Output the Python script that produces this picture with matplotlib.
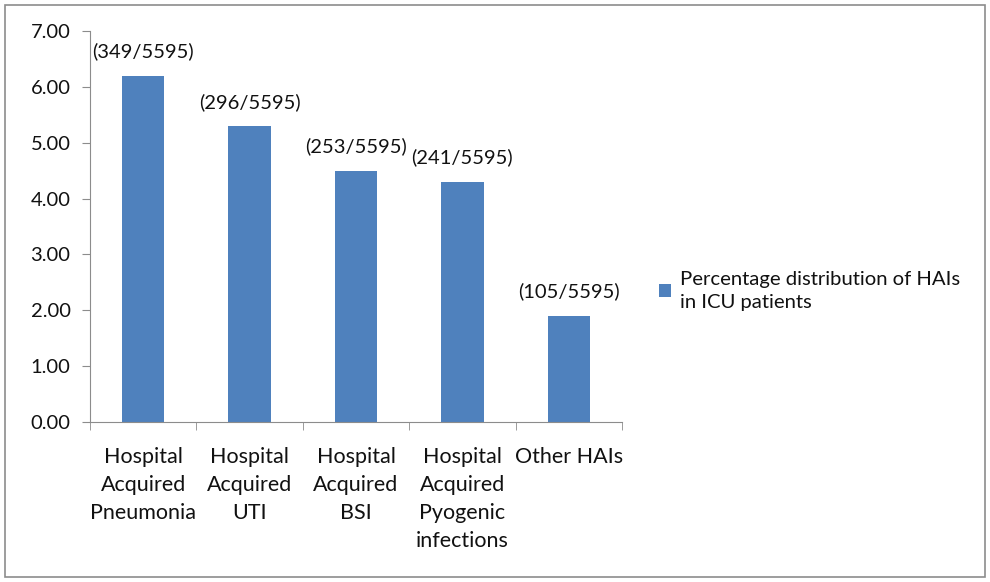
import matplotlib
matplotlib.use("Agg")
import matplotlib.pyplot as plt
from matplotlib.patches import Rectangle
import numpy as np

categories = ["Hospital\nAcquired\nPneumonia", "Hospital\nAcquired\nUTI", "Hospital\nAcquired\nBSI",
              "Hospital\nAcquired\nPyogenic\ninfections", "Other HAIs"]
values = [6.20, 5.30, 4.50, 4.30, 1.90]
bar_labels = ["(349/5595)", "(296/5595)", "(253/5595)", "(241/5595)", "(105/5595)"]
series_name = "Percentage distribution of HAIs\nin ICU patients"
yticks = [0, 1, 2, 3, 4, 5, 6, 7]

plt.rcParams['font.family'] = ['Lato', 'DejaVu Sans']
color = "#4F81BD"
tc = "#111111"

fig = plt.figure(figsize=(9.9, 5.82), dpi=100)
fig.patches.append(Rectangle((5/990, 5/582), 980/990, 572/582, transform=fig.transFigure,
                             fill=False, edgecolor="#8c8c8c", linewidth=1.2))
ax = fig.add_axes([90/990, (582-422)/582, 532/990, (422-31)/582])

x = np.arange(len(categories))
bars = ax.bar(x, values, width=0.4, color=color, label=series_name, zorder=2)
for b, lab in zip(bars, bar_labels):
    ax.annotate(lab, (b.get_x() + b.get_width()/2, b.get_height()), xytext=(0, 11),
                textcoords="offset points", ha="center", va="bottom", fontsize=14.5, color=tc)

ax.set_xlim(-0.5, len(categories) - 0.5)
ax.set_ylim(0, 7)
ax.set_yticks(yticks)
ax.set_yticklabels([f"{v:.2f}" for v in yticks], fontsize=14.5, color=tc)
ax.set_xticks(x)
ax.set_xticklabels(categories, fontsize=15.5, linespacing=1.5, va="top", color=tc)
ax.tick_params(axis="x", which="major", length=0, pad=18)
ax.set_xticks(np.arange(-0.5, len(categories) + 0.5, 1), minor=True)
ax.tick_params(axis="x", which="minor", length=6, color="#8c8c8c", direction="out")
ax.tick_params(axis="y", length=6, color="#8c8c8c", direction="out", pad=8)
for s in ["top", "right"]:
    ax.spines[s].set_visible(False)
for s in ["left", "bottom"]:
    ax.spines[s].set_color("#8c8c8c")

leg = fig.legend(loc="center left", bbox_to_anchor=(641/990, 1 - 291/582), frameon=False,
                 fontsize=14.6, handlelength=0.6, handleheight=0.6, handletextpad=0.4,
                 labelspacing=0.3, labelcolor=tc)
for t in leg.get_texts():
    t.set_linespacing(1.45)

fig.savefig("out.png", dpi=100)
